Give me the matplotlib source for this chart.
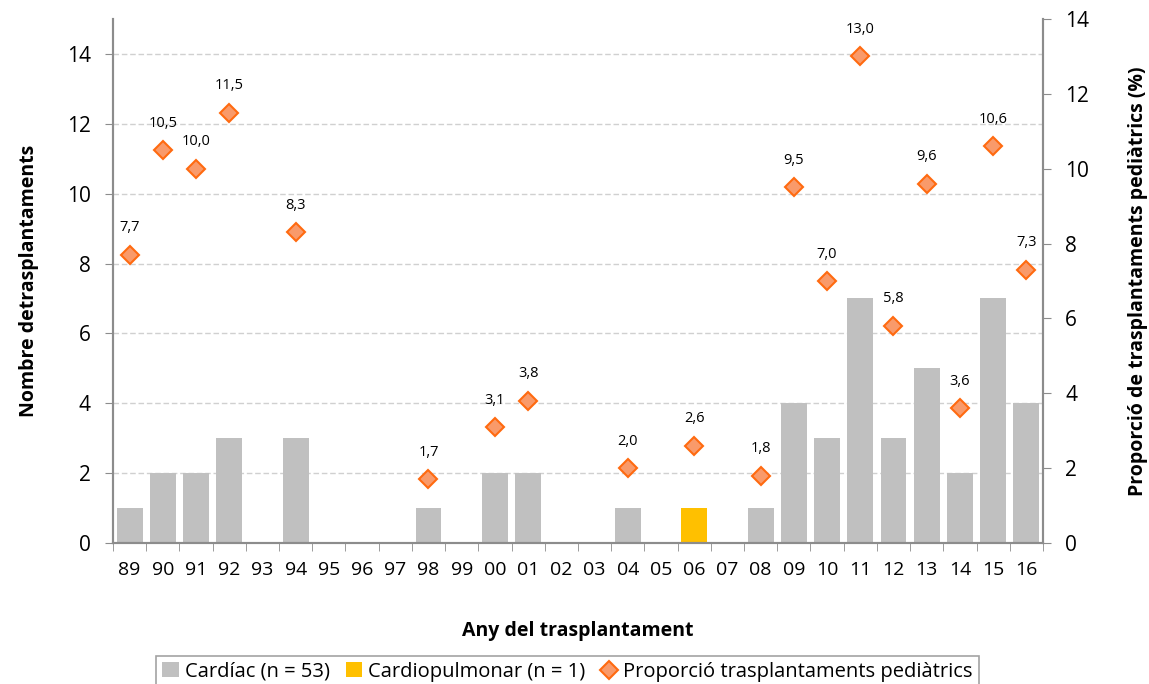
import numpy as np
import matplotlib.pyplot as plt
#--------------------------------------------------------------------------------------------------------------------
# Data
#--------------------------------------------------------------------------------------------------------------------
years          = ['89', '90', '91', '92', '93', '94', '95', '96', '97', '98', '99', '00', '01', '02',
                  '03', '04', '05', '06', '07', '08', '09', '10', '11', '12', '13', '14', '15', '16']
cardiac        = [1, 2, 2, 3, 0, 3, 0, 0, 0, 1, 0, 2, 2, 0, 0, 1, 0, 0, 0, 1, 4, 3, 7, 3, 5, 2, 7, 4]
cardiopulmonar = [0, 0, 0, 0, 0, 0, 0, 0, 0, 0, 0, 0, 0, 0, 0, 0, 0, 1, 0, 0, 0, 0, 0, 0, 0, 0, 0, 0]
pct_years      = ['89', '90', '91', '92', '94', '98', '00', '01', '04', '06', '08', '09', '10', '11',
                  '12', '13', '14', '15', '16']
pct_values     = [7.7, 10.5, 10.0, 11.5, 8.3, 1.7, 3.1, 3.8, 2.0, 2.6, 1.8, 9.5, 7.0, 13.0,
                  5.8, 9.6, 3.6, 10.6, 7.3]
#--------------------------------------------------------------------------------------------------------------------
# Style
#--------------------------------------------------------------------------------------------------------------------
plt.rcParams['font.family'] = ['Open Sans', 'DejaVu Sans']
spine_col = '#8c8c8c'
x = np.arange(len(years))
xp = np.array([years.index(y) for y in pct_years])
#--------------------------------------------------------------------------------------------------------------------
# Plot
#--------------------------------------------------------------------------------------------------------------------
fig = plt.figure(figsize=(11.49, 6.84), dpi=100)
ax = fig.add_axes([0.0983, 0.2061, 0.8094, 0.7661])
ax2 = ax.twinx()

b1 = ax.bar(x, cardiac, width=0.78, color='#c0c0c0', zorder=2, label='Cardíac (n = 53)')
b2 = ax.bar(x, cardiopulmonar, width=0.78, bottom=cardiac, color='#ffc000', zorder=2,
            label='Cardiopulmonar (n = 1)')
ax.set_ylim(0, 15)
ax.set_yticks(range(0, 15, 2))
ax.set_xlim(-0.5, len(years) - 0.5)
ax.set_xticks(x)
ax.set_xticklabels(years)
ax.set_xticks(np.arange(-0.5, len(years), 1), minor=True)
ax.tick_params(axis='x', which='major', length=0, pad=13, labelsize=14)
ax.tick_params(axis='x', which='minor', length=6, color=spine_col, direction='out')
ax.tick_params(axis='y', length=6, color=spine_col, labelsize=15, pad=10)
ax.yaxis.grid(True, color='#d0d0d0', linestyle=(0, (4, 2)), linewidth=1, zorder=0)
ax.set_axisbelow(True)

m, = ax2.plot(xp, pct_values, linestyle='none', marker='D', markersize=9,
              markerfacecolor='#f99a6a', markeredgecolor='#ff6a10', markeredgewidth=1.5,
              label='Proporció trasplantaments pediàtrics', zorder=3)
for xi, v in zip(xp, pct_values):
    ax2.annotate(('%.1f' % v).replace('.', ','), (xi, v), xytext=(0, 14),
                 textcoords='offset points', ha='center', va='bottom', fontsize=10.5)
ax2.set_ylim(0, 14)
ax2.set_yticks(range(0, 15, 2))
ax2.tick_params(axis='y', length=6, color=spine_col, labelsize=15, pad=10)

for a in (ax, ax2):
    a.spines['top'].set_visible(False)
    for s in ('left', 'right', 'bottom'):
        a.spines[s].set_color(spine_col)
        a.spines[s].set_linewidth(1.5)

ax.set_ylabel('Nombre detrasplantaments', fontsize=14, fontweight='bold', labelpad=20)
ax2.set_ylabel('Proporció de trasplantaments pediàtrics (%)', fontsize=14, fontweight='bold', labelpad=28)
ax.set_xlabel('Any del trasplantament', fontsize=14, fontweight='bold', labelpad=30)

leg = fig.legend(handles=[b1, b2, m], loc='lower center', bbox_to_anchor=(0.494, -0.02), ncol=3,
                 fontsize=14.5, frameon=True, fancybox=False, edgecolor='#8c8c8c',
                 handlelength=0.8, handletextpad=0.3, columnspacing=0.8, borderpad=0.3)
leg.get_frame().set_linewidth(1.2)

plt.savefig('out.png', dpi=100)
